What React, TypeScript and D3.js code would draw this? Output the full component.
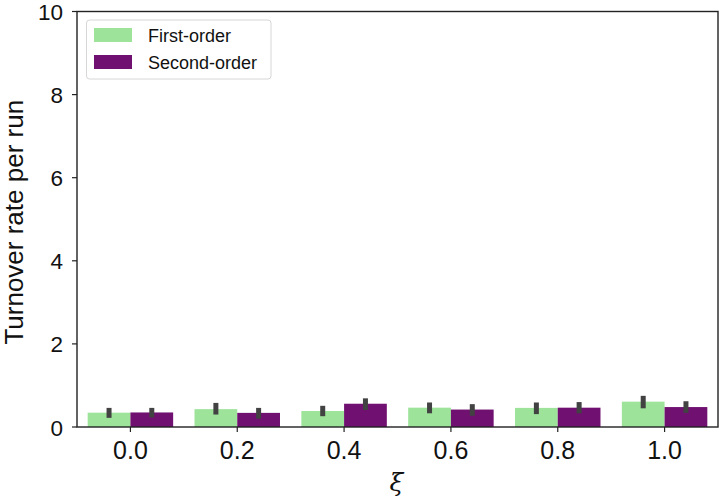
import React from "react";
import * as d3 from "d3";

// values
const xiLabels = ["0.0", "0.2", "0.4", "0.6", "0.8", "1.0"];
const seriesNames = ["First-order", "Second-order"];
const firstMean = [0.345, 0.43, 0.385, 0.465, 0.46, 0.61];
const firstLow = [0.22, 0.3, 0.26, 0.33, 0.31, 0.45];
const firstHigh = [0.46, 0.58, 0.51, 0.59, 0.59, 0.75];
const secondMean = [0.35, 0.34, 0.56, 0.42, 0.465, 0.48];
const secondLow = [0.23, 0.2, 0.41, 0.27, 0.33, 0.34];
const secondHigh = [0.46, 0.46, 0.69, 0.55, 0.6, 0.62];
const yTicks = [0, 2, 4, 6, 8, 10];

const colors = ["#9de39a", "#701070"];
const W = 720, H = 501;
const left = 77, right = 718, top = 11.5, bottom = 427;
const font = "'Liberation Sans', Arial, sans-serif";

export default function App() {
  const x = d3.scaleBand().domain(xiLabels).range([left, right]).paddingInner(0).paddingOuter(0);
  const y = d3.scaleLinear().domain([0, 10]).range([bottom, top]);
  const inner = d3.scaleBand().domain(seriesNames).range([0, x.bandwidth() * 0.8]);
  const off = x.bandwidth() * 0.1;

  const series = [
    { name: seriesNames[0], mean: firstMean, lo: firstLow, hi: firstHigh },
    { name: seriesNames[1], mean: secondMean, lo: secondLow, hi: secondHigh },
  ];

  return (
    <svg width={W} height={H} style={{ position: "absolute", left: 0, top: 0, background: "#fff" }} fontFamily={font}>
      {series.map((s, si) => (
        <g key={s.name}>
          {xiLabels.map((c, i) => {
            const bx = (x(c) as number) + off + (inner(s.name) as number);
            return (
              <g key={c}>
                <rect x={bx} y={y(s.mean[i])} width={inner.bandwidth()} height={bottom - y(s.mean[i])} fill={colors[si]} />
                <line x1={bx + inner.bandwidth() / 2} x2={bx + inner.bandwidth() / 2} y1={y(s.lo[i])} y2={y(s.hi[i])}
                  stroke="#424242" strokeWidth={5} />
              </g>
            );
          })}
        </g>
      ))}

      {/* spines */}
      <rect x={left} y={top} width={right - left} height={bottom - top} fill="none" stroke="#222" strokeWidth={1.4} />

      {/* y axis */}
      {yTicks.map((t) => (
        <g key={t}>
          <line x1={left - 5} x2={left} y1={y(t)} y2={y(t)} stroke="#222" strokeWidth={1.2} />
          <text x={left - 14} y={y(t) + 8.5} textAnchor="end" fontSize={22.5} fill="#111">{t}</text>
        </g>
      ))}
      <text transform={`translate(23,${(top + bottom) / 2 + 3}) rotate(-90)`} textAnchor="middle" fontSize={26} fill="#111">
        Turnover rate per run
      </text>

      {/* x axis */}
      {xiLabels.map((c) => {
        const cx = (x(c) as number) + x.bandwidth() / 2;
        return (
          <g key={c}>
            <line x1={cx} x2={cx} y1={bottom} y2={bottom + 5} stroke="#222" strokeWidth={1.2} />
            <text x={cx} y={458.5} textAnchor="middle" fontSize={25} fill="#111">{c}</text>
          </g>
        );
      })}
      <text x={(left + right) / 2 - 1} y={491} textAnchor="middle" fontSize={25} fontStyle="italic" fill="#111"
        fontFamily="'DejaVu Serif', serif">ξ</text>

      {/* legend */}
      <rect x={86.5} y={20} width={184.5} height={59} rx={3} fill="#fff" fillOpacity={0.8} stroke="#d6d6d6" strokeWidth={1} />
      {seriesNames.map((n, i) => (
        <g key={n}>
          <rect x={94} y={28 + i * 27} width={38} height={14} fill={colors[i]} />
          <text x={148} y={42 + i * 27} fontSize={18} fill="#111">{n}</text>
        </g>
      ))}
    </svg>
  );
}
